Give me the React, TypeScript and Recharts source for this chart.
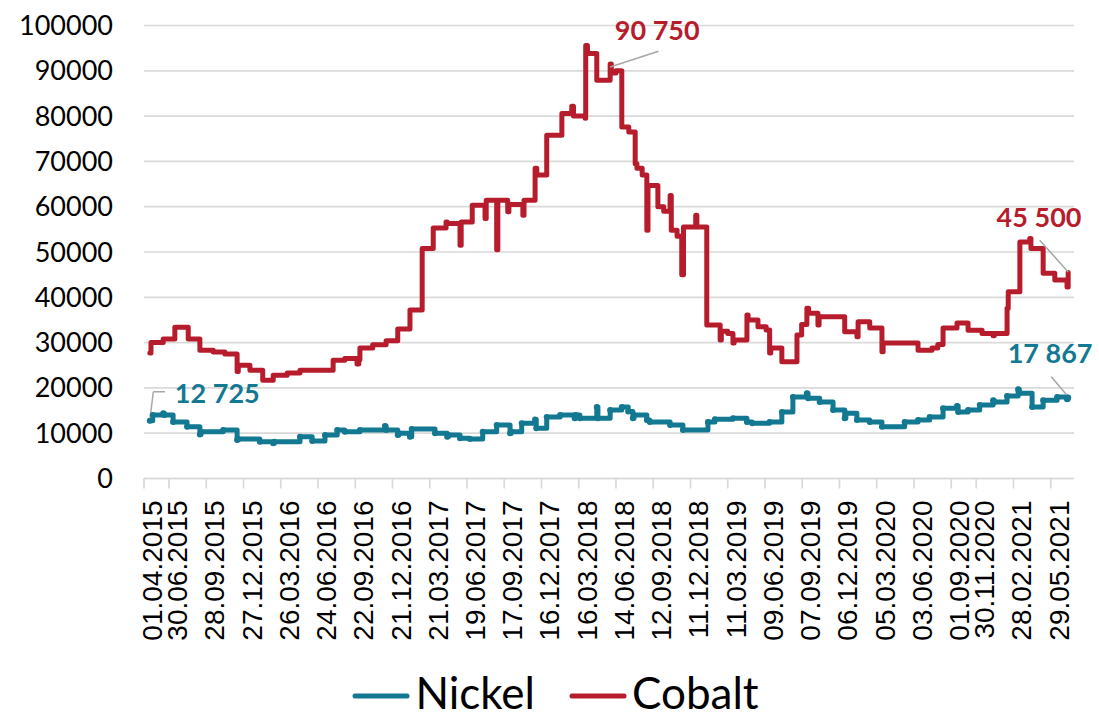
import {
  CartesianGrid,
  Legend,
  Line,
  LineChart,
  ReferenceDot,
  ReferenceLine,
  XAxis,
  YAxis,
} from "recharts";

const NICKEL_COLOR = "#137891";
const COBALT_COLOR = "#B71C2C";
const GRID = "#d9d9d9";

const seriesNames = ["Nickel", "Cobalt"];
const seriesColors = [NICKEL_COLOR, COBALT_COLOR];

// x = observation index (trading days since 01.04.2015)
const xTickIdx = [
  0, 43, 107, 171, 235, 299, 363, 427, 491, 555, 619, 683, 747, 811, 875, 939,
  1003, 1067, 1131, 1195, 1259, 1323, 1387, 1430, 1494, 1558,
];
const xTickLabels = [
  "01.04.2015", "30.06.2015", "28.09.2015", "27.12.2015", "26.03.2016",
  "24.06.2016", "22.09.2016", "21.12.2016", "21.03.2017", "19.06.2017",
  "17.09.2017", "16.12.2017", "16.03.2018", "14.06.2018", "12.09.2018",
  "11.12.2018", "11.03.2019", "09.06.2019", "07.09.2019", "06.12.2019",
  "05.03.2020", "03.06.2020", "01.09.2020", "30.11.2020", "28.02.2021",
  "29.05.2021",
];
const yTicks = [0, 10000, 20000, 30000, 40000, 50000, 60000, 70000, 80000, 90000, 100000];

const cobaltIdx = [
  10, 12, 33, 53, 76, 96, 119, 139, 160, 162, 182, 204, 222, 246, 268, 325, 345,
  366, 369, 371, 393, 416, 436, 457, 478, 497, 519, 521, 543, 545, 564, 586, 588,
  606, 608, 625, 627, 651, 653, 672, 675, 692, 718, 735, 738, 758, 759, 762, 778,
  801, 803, 811, 821, 833, 844, 847, 856, 864, 866, 883, 893, 904, 906, 916, 924,
  927, 948, 950, 967, 990, 992, 1003, 1012, 1014, 1036, 1038, 1055, 1069, 1075,
  1077, 1096, 1122, 1130, 1139, 1142, 1158, 1160, 1204, 1225, 1227, 1247, 1268,
  1270, 1330, 1354, 1364, 1373, 1397, 1416, 1440, 1459, 1461, 1483, 1485, 1505,
  1522, 1524, 1545, 1565, 1586, 1588,
];
const cobaltPrice = [
  27700, 30000, 30800, 33400, 30800, 28300, 27900, 27500, 23600, 25000, 23900,
  21700, 22800, 23300, 23900, 26100, 26500, 25300, 26200, 28800, 29500, 30400,
  33000, 37200, 50800, 55300, 56600, 56300, 51500, 56600, 60300, 57400, 61400,
  50500, 61400, 58900, 60500, 58100, 61400, 68500, 67000, 75800, 80600, 82200,
  80000, 79500, 95600, 93800, 87900, 91500, 89500, 90000, 77600, 76500, 69500,
  68500, 67000, 54800, 64700, 60000, 59000, 62500, 54800, 53500, 45000, 55500,
  58100, 55500, 33900, 30600, 32500, 32000, 29900, 30600, 36100, 35000, 33500,
  32800, 27700, 28800, 25800, 31700, 34000, 37600, 36500, 33900, 35700, 32400,
  31300, 34600, 33200, 28000, 29900, 28300, 28800, 29600, 33200, 34300, 32700,
  32000, 31500, 32000, 37600, 41200, 52200, 53000, 50800, 45300, 43800, 42300,
  45500,
];

const nickelIdx = [
  10, 15, 33, 35, 50, 74, 96, 98, 136, 160, 162, 199, 222, 224, 268, 289, 311,
  332, 345, 371, 414, 416, 436, 438, 457, 460, 500, 521, 523, 543, 560, 582, 606,
  629, 631, 649, 672, 674, 692, 715, 740, 742, 749, 778, 780, 801, 821, 832, 840,
  842, 864, 869, 904, 926, 969, 981, 1012, 1036, 1045, 1075, 1096, 1115, 1139,
  1141, 1161, 1184, 1204, 1206, 1225, 1247, 1268, 1307, 1330, 1350, 1373, 1397,
  1399, 1416, 1436, 1459, 1461, 1483, 1502, 1504, 1526, 1545, 1569, 1586, 1588,
];
const nickelPrice = [
  12725, 14000, 14400, 14000, 12500, 11400, 9700, 10300, 10700, 8500, 8700, 8100,
  7800, 8100, 9200, 8300, 9600, 10700, 10300, 10700, 11600, 10700, 9600, 10000,
  9200, 10900, 10000, 9200, 9600, 8900, 8700, 10300, 11800, 10000, 10300, 12200,
  13000, 11100, 13600, 14000, 13300, 14000, 13300, 15800, 13300, 15100, 15800,
  14800, 13300, 14000, 12900, 12500, 11800, 10700, 12500, 13100, 13300, 12500,
  12200, 12500, 14700, 18000, 18800, 17700, 16900, 15100, 13300, 14400, 12900,
  12500, 11400, 12500, 12900, 13600, 15500, 16000, 14700, 15100, 16200, 17300,
  16900, 18200, 19700, 18800, 15800, 17300, 18000, 17500, 17867,
];

// data labels with leader lines
const calloutText = ["12 725", "90 750", "45 500", "17 867"];
const calloutColor = [NICKEL_COLOR, COBALT_COLOR, COBALT_COLOR, NICKEL_COLOR];
const calloutIdx = [53, 809, 1465, 1484];
const calloutValue = [16700, 96900, 55550, 25400];
const leaderFrom = [
  [36, 19150], [16, 19150], [884, 94300], [1539, 52600], [1559, 22460],
];
const leaderTo = [
  [16, 19150], [10, 12900], [801, 90850], [1588, 45600], [1588, 18050],
];

const nickelData = nickelIdx.map((n, i) => ({ n, v: nickelPrice[i] }));
const cobaltData = cobaltIdx.map((n, i) => ({ n, v: cobaltPrice[i] }));

function DateTick(props: any) {
  const { x, y, payload } = props;
  const label = xTickLabels[xTickIdx.indexOf(payload.value)];
  const ty = y + 10;
  return (
    <text
      x={x}
      y={ty}
      dy={18}
      transform={`rotate(-90 ${x} ${ty})`}
      textAnchor="end"
      fontSize={28}
      fontFamily="'Liberation Sans', Arial, sans-serif"
      fill="#000"
    >
      {label}
    </text>
  );
}

function LegendBox() {
  return (
    <div
      style={{
        display: "flex",
        justifyContent: "center",
        alignItems: "center",
        height: 54,
        paddingLeft: 12,
        fontFamily: "Lato, sans-serif",
        fontSize: 44,
        lineHeight: "54px",
        color: "#000",
      }}
    >
      {seriesNames.map((name, i) => (
        <div
          key={name}
          style={{ display: "flex", alignItems: "center", marginLeft: i ? 34 : 0 }}
        >
          <svg width={58} height={12} style={{ marginRight: 5, marginTop: 8 }}>
            <line x1={3} y1={6} x2={55} y2={6} stroke={seriesColors[i]} strokeWidth={5} strokeLinecap="round" />
          </svg>
          <span>{name}</span>
        </div>
      ))}
    </div>
  );
}

export default function App() {
  return (
    <div style={{ position: "absolute", left: 0, top: 0, background: "#fff" }}>
      <LineChart
        width={1099}
        height={719}
        margin={{ top: 25.5, right: 25, left: 0, bottom: 0 }}
      >
        <CartesianGrid vertical={false} stroke={GRID} strokeWidth={1.7} />
        <XAxis
          type="number"
          dataKey="n"
          domain={[0, 1598]}
          ticks={xTickIdx}
          interval={0}
          height={186.5}
          tick={<DateTick />}
          tickSize={10}
          axisLine={{ stroke: GRID, strokeWidth: 1.7 }}
          tickLine={{ stroke: GRID, strokeWidth: 1.7 }}
          allowDataOverflow
        />
        <YAxis
          type="number"
          domain={[0, 100000]}
          ticks={yTicks}
          width={144}
          axisLine={false}
          tickLine={false}
          tickSize={0}
          tickMargin={31}
          interval={0}
          tick={{ fontSize: 27, fontFamily: "Lato, sans-serif", fill: "#000" }}
        />
        <Legend
          verticalAlign="bottom"
          content={<LegendBox />}
          wrapperStyle={{ left: 0, width: 1099, bottom: 0, height: 54 }}
        />
        <Line
          name={seriesNames[0]}
          data={nickelData}
          dataKey="v"
          type="stepAfter"
          stroke={NICKEL_COLOR}
          strokeWidth={5}
          strokeLinejoin="round"
          strokeLinecap="round"
          dot={{ r: 3, fill: NICKEL_COLOR, stroke: "none" }}
          activeDot={false}
          isAnimationActive={false}
        />
        <Line
          name={seriesNames[1]}
          data={cobaltData}
          dataKey="v"
          type="stepAfter"
          stroke={COBALT_COLOR}
          strokeWidth={5}
          strokeLinejoin="round"
          strokeLinecap="round"
          dot={false}
          activeDot={false}
          isAnimationActive={false}
        />
        {leaderFrom.map((f, i) => (
          <ReferenceLine
            key={"l" + i}
            segment={[
              { x: f[0], y: f[1] },
              { x: leaderTo[i][0], y: leaderTo[i][1] },
            ]}
            stroke="#a6a6a6"
            strokeWidth={1.5}
            ifOverflow="visible"
          />
        ))}
        {calloutText.map((t, i) => (
          <ReferenceDot
            key={"c" + i}
            x={calloutIdx[i]}
            y={calloutValue[i]}
            ifOverflow="visible"
            shape={(p: any) => (
              <text
                x={p.cx}
                y={p.cy}
                fill={calloutColor[i]}
                fontSize={27}
                fontWeight={700}
                fontFamily="Lato, sans-serif"
              >
                {t}
              </text>
            )}
          />
        ))}
      </LineChart>
    </div>
  );
}
